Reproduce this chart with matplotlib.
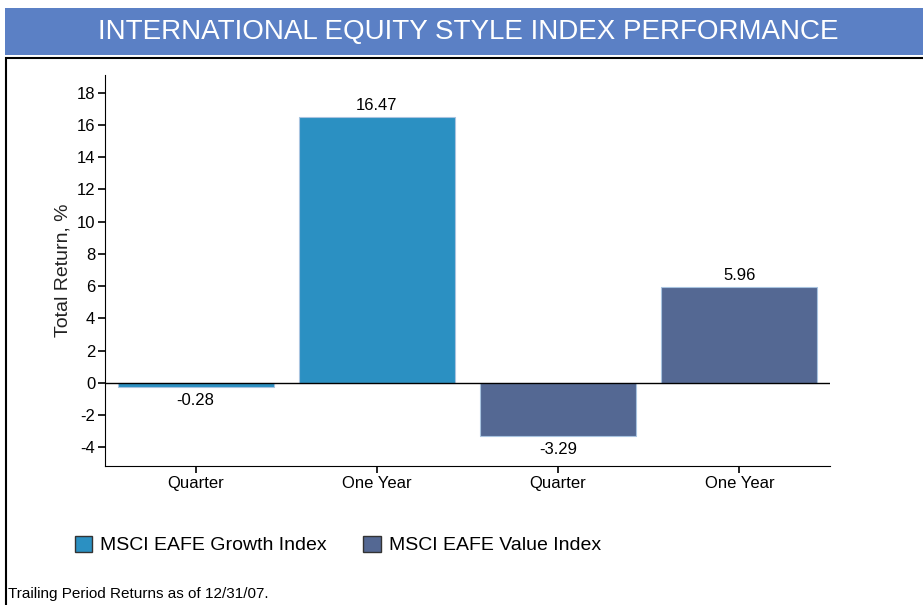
import matplotlib.pyplot as plt
from matplotlib.patches import Rectangle
from matplotlib import font_manager

# chart data
categories = ["Quarter", "One Year", "Quarter", "One Year"]
series_names = ["MSCI EAFE Growth Index", "MSCI EAFE Value Index"]
growth_returns = [-0.28, 16.47]
value_returns = [-3.29, 5.96]
y_ticks = [-4, -2, 0, 2, 4, 6, 8, 10, 12, 14, 16, 18]

growth_color = "#2B90C2"
value_color = "#546893"
banner_color = "#5B80C5"

# pick a narrow font if one is installed
names = {f.name for f in font_manager.fontManager.ttflist}
font = "Liberation Sans Narrow" if "Liberation Sans Narrow" in names else "Liberation Sans"
plt.rcParams["font.family"] = [font, "DejaVu Sans"]
plt.rcParams["axes.unicode_minus"] = False

fig = plt.figure(figsize=(9.23, 6.05), dpi=100)
W, H = 923, 605

# title banner
fig.patches.append(Rectangle((5 / W, 1 - 55 / H), 918 / W, 47 / H, transform=fig.transFigure,
                             facecolor=banner_color, edgecolor="none"))
fig.text(468 / W, 1 - 32 / H, "INTERNATIONAL EQUITY STYLE INDEX PERFORMANCE", color="white",
         fontsize=20, ha="center", va="center")
# black frame below the banner
fig.patches.append(Rectangle((6 / W, -0.01), 930 / W, 1 - 58 / H + 0.01, transform=fig.transFigure,
                             facecolor="none", edgecolor="black", linewidth=1.5))

ax = fig.add_axes([105 / W, 1 - 466 / H, 725 / W, 391 / H])

values = growth_returns + value_returns
colors = [growth_color] * len(growth_returns) + [value_color] * len(value_returns)
x = list(range(len(categories)))
ax.bar(x, values, width=0.86, color=colors, edgecolor="#A9C4E0", linewidth=0.8, zorder=2)
ax.axhline(0, color="black", linewidth=1, zorder=3)

for xi, v in zip(x, values):
    if v >= 0:
        ax.text(xi, v + 0.25, f"{v:.2f}", ha="center", va="bottom", fontsize=12)
    else:
        ax.text(xi, v - 0.35, f"{v:.2f}", ha="center", va="top", fontsize=12)

ax.set_xlim(-0.5, 3.5)
ax.set_ylim(-5.15, 19.1)
ax.set_yticks(y_ticks)
ax.set_xticks(x)
ax.set_xticklabels(categories)
ax.tick_params(axis="both", labelsize=12, length=5, width=1.2, direction="out", pad=2)
ax.spines["top"].set_visible(False)
ax.spines["right"].set_visible(False)
ax.set_ylabel("Total Return, %", fontsize=14, labelpad=4, color="#222222")

# legend
handles = [Rectangle((0, 0), 1, 1, facecolor=growth_color, edgecolor="#333333", linewidth=1),
           Rectangle((0, 0), 1, 1, facecolor=value_color, edgecolor="#333333", linewidth=1)]
fig.legend(handles, series_names, loc="center left", bbox_to_anchor=(57 / W, 1 - 545 / H),
           ncol=2, frameon=False, fontsize=14, handlelength=0.9, handleheight=0.9,
           handletextpad=0.4, columnspacing=1.9)

fig.text(8 / W, 1 - 594 / H, "Trailing Period Returns as of 12/31/07.", fontsize=11,
         ha="left", va="center")

fig.savefig("out.png", dpi=100)
